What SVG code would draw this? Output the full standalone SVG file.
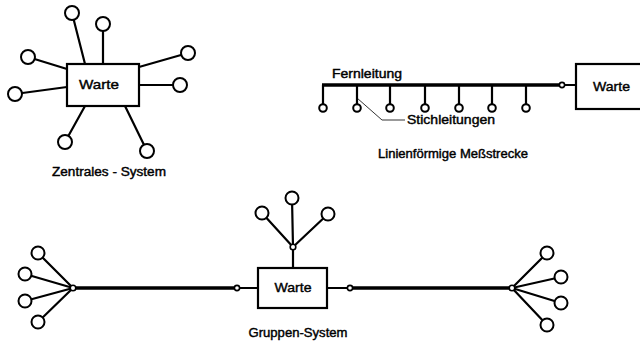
<svg xmlns="http://www.w3.org/2000/svg" width="640" height="341" viewBox="0 0 640 341">
<style>
.ln{stroke:#000;stroke-width:2.2;fill:none;stroke-linecap:round}
.trunk{stroke:#000;stroke-width:3.5;fill:none}
.box{fill:#fff;stroke:#000;stroke-width:2.2}
.nd{fill:#fff;stroke:#000;stroke-width:2}
.sm{fill:#fff;stroke:#000;stroke-width:1.6}
.thin{stroke:#000;stroke-width:0.8;fill:none}
text{font-family:"Liberation Sans","DejaVu Sans",sans-serif;fill:#000;stroke:#000;stroke-width:0.4}
.t13{font-size:13px}
.t12{font-size:12px}
</style>
<rect width="640" height="341" fill="#fff"/>
<g id="connectors">
  <line class="ln" x1="72" y1="13" x2="85" y2="64"/>
  <line class="ln" x1="103" y1="24" x2="103" y2="64"/>
  <line class="ln" x1="28" y1="57" x2="67" y2="69"/>
  <line class="ln" x1="15" y1="94" x2="67" y2="87"/>
  <line class="ln" x1="188" y1="53" x2="139" y2="67"/>
  <line class="ln" x1="180" y1="85" x2="139" y2="85"/>
  <line class="ln" x1="65" y1="142" x2="85" y2="106"/>
  <line class="ln" x1="147" y1="151" x2="125" y2="106"/>
  <line class="trunk" x1="322" y1="85" x2="562" y2="85"/>
  <line class="ln" x1="562" y1="85" x2="576" y2="85"/>
  <line class="ln" x1="323" y1="85" x2="323" y2="108"/>
  <line class="ln" x1="357" y1="85" x2="357" y2="108"/>
  <line class="ln" x1="390" y1="85" x2="390" y2="108"/>
  <line class="ln" x1="425" y1="85" x2="425" y2="108"/>
  <line class="ln" x1="459" y1="85" x2="459" y2="108"/>
  <line class="ln" x1="492" y1="85" x2="492" y2="108"/>
  <line class="ln" x1="526" y1="85" x2="526" y2="108"/>
  <polyline class="thin" points="357,98 382,120 405,120"/>
  <line class="trunk" x1="73" y1="288" x2="237" y2="288"/>
  <line class="ln" x1="237" y1="288" x2="258" y2="288"/>
  <line class="ln" x1="327" y1="288" x2="350" y2="288"/>
  <line class="trunk" x1="350" y1="288" x2="512" y2="288"/>
  <line class="ln" x1="73" y1="288" x2="38" y2="253"/>
  <line class="ln" x1="73" y1="288" x2="25" y2="274"/>
  <line class="ln" x1="73" y1="288" x2="25" y2="301"/>
  <line class="ln" x1="73" y1="288" x2="38" y2="322"/>
  <line class="ln" x1="512" y1="288" x2="547" y2="253"/>
  <line class="ln" x1="512" y1="288" x2="561" y2="277"/>
  <line class="ln" x1="512" y1="288" x2="561" y2="303"/>
  <line class="ln" x1="512" y1="288" x2="547" y2="325"/>
  <line class="ln" x1="293" y1="247" x2="293" y2="268"/>
  <line class="ln" x1="293" y1="247" x2="262" y2="213"/>
  <line class="ln" x1="293" y1="247" x2="292" y2="198"/>
  <line class="ln" x1="293" y1="247" x2="328" y2="214"/>
</g>
<g id="zentral-warte"><rect class="box" x="67" y="64" width="72" height="42"/><text class="t13" x="99" y="89" text-anchor="middle" textLength="40" lengthAdjust="spacingAndGlyphs">Warte</text></g>
<g id="zentral-nodes">
  <circle class="nd" cx="72" cy="13" r="7"/>
  <circle class="nd" cx="103" cy="24" r="7"/>
  <circle class="nd" cx="28" cy="57" r="7"/>
  <circle class="nd" cx="15" cy="94" r="7"/>
  <circle class="nd" cx="188" cy="53" r="7"/>
  <circle class="nd" cx="180" cy="85" r="7"/>
  <circle class="nd" cx="65" cy="142" r="7"/>
  <circle class="nd" cx="147" cy="151" r="7"/>
</g>
<text class="t12" x="109" y="176" text-anchor="middle" textLength="114" lengthAdjust="spacingAndGlyphs">Zentrales - System</text>
<g id="linie-warte"><rect class="box" x="576" y="64" width="70" height="45"/><text class="t13" x="611.5" y="91" text-anchor="middle" textLength="37" lengthAdjust="spacingAndGlyphs">Warte</text></g>
<g id="linie-nodes">
  <circle class="sm" cx="562" cy="85" r="2.6"/>
  <circle class="nd" cx="323" cy="108" r="3.8"/>
  <circle class="nd" cx="357" cy="108" r="3.8"/>
  <circle class="nd" cx="390" cy="108" r="3.8"/>
  <circle class="nd" cx="425" cy="108" r="3.8"/>
  <circle class="nd" cx="459" cy="108" r="3.8"/>
  <circle class="nd" cx="492" cy="108" r="3.8"/>
  <circle class="nd" cx="526" cy="108" r="3.8"/>
</g>
<text class="t12" x="332" y="78" textLength="70" lengthAdjust="spacingAndGlyphs">Fernleitung</text>
<text class="t12" x="407" y="124" textLength="88" lengthAdjust="spacingAndGlyphs">Stichleitungen</text>
<text class="t12" x="453" y="158" text-anchor="middle" textLength="150" lengthAdjust="spacingAndGlyphs">Linienförmige Meßstrecke</text>
<g id="gruppen-warte"><rect class="box" x="258" y="268" width="69" height="40"/><text class="t13" x="293" y="292" text-anchor="middle" textLength="37" lengthAdjust="spacingAndGlyphs">Warte</text></g>
<g id="gruppen-nodes">
  <circle class="sm" cx="73" cy="288" r="2.8"/>
  <circle class="sm" cx="237" cy="288" r="2.6"/>
  <circle class="sm" cx="350" cy="288" r="2.6"/>
  <circle class="sm" cx="512" cy="288" r="2.8"/>
  <circle class="sm" cx="293" cy="247" r="2.8"/>
  <circle class="nd" cx="38" cy="253" r="6.5"/>
  <circle class="nd" cx="25" cy="274" r="6.5"/>
  <circle class="nd" cx="25" cy="301" r="6.5"/>
  <circle class="nd" cx="38" cy="322" r="6.5"/>
  <circle class="nd" cx="547" cy="253" r="6.5"/>
  <circle class="nd" cx="561" cy="277" r="6.5"/>
  <circle class="nd" cx="561" cy="303" r="6.5"/>
  <circle class="nd" cx="547" cy="325" r="6.5"/>
  <circle class="nd" cx="262" cy="213" r="6.5"/>
  <circle class="nd" cx="292" cy="198" r="6.5"/>
  <circle class="nd" cx="328" cy="214" r="6.5"/>
</g>
<text class="t12" x="298" y="337" text-anchor="middle" textLength="99" lengthAdjust="spacingAndGlyphs">Gruppen-System</text>
</svg>
